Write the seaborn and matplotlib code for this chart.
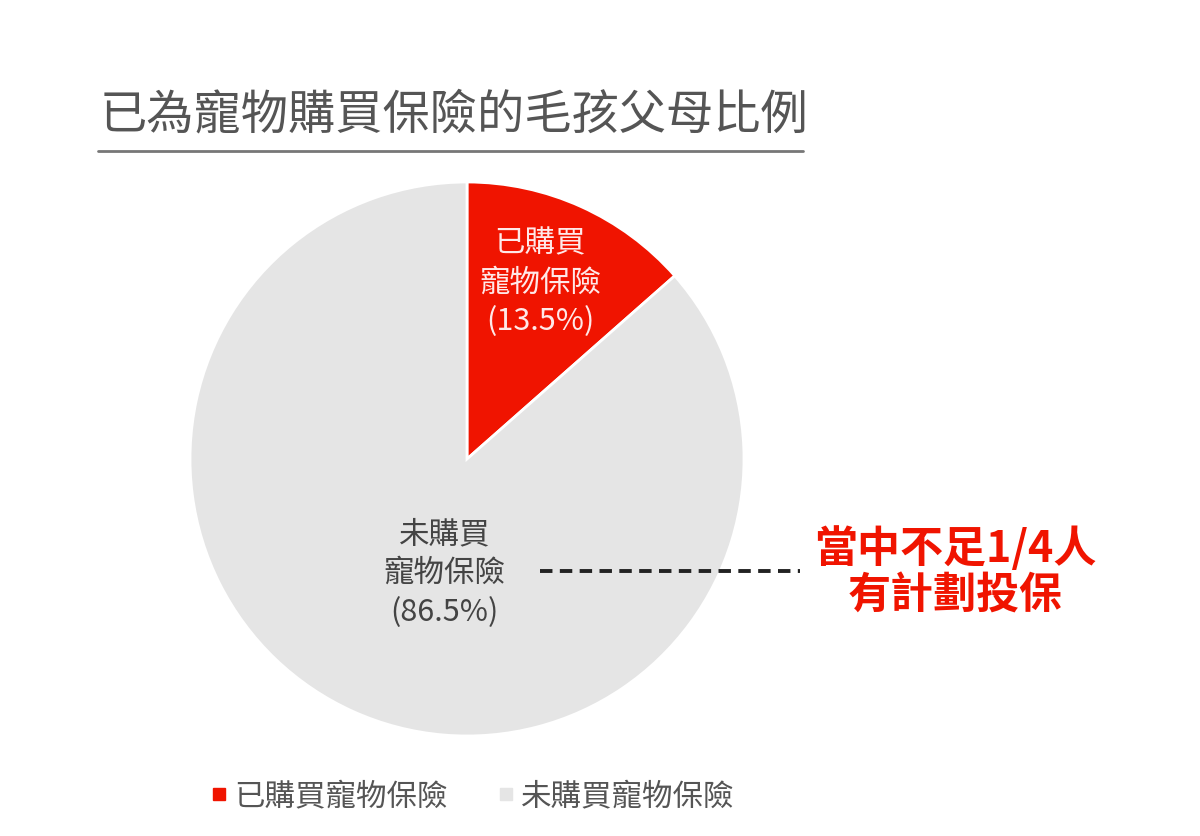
import matplotlib
matplotlib.use("Agg")
import matplotlib.pyplot as plt
from matplotlib.lines import Line2D
import seaborn as sns

sns.set_theme(style="white")
plt.rcParams["font.family"] = ["Noto Sans CJK TC", "DejaVu Sans"]

# Data
title = "已為寵物購買保險的毛孩父母比例"
labels = ["已購買寵物保險", "未購買寵物保險"]
slice_text = ["已購買\n寵物保險", "未購買\n寵物保險"]
values = [13.5, 86.5]
colors = ["#F01400", "#E5E5E5"]
note = "當中不足1/4人\n有計劃投保"

fig = plt.figure(figsize=(12, 8.37), dpi=100)
fig.patch.set_facecolor("white")

# pie axes (center ~ (467, 460) px, radius ~277 px)
ax = fig.add_axes([190 / 1200, 100 / 837, 554 / 1200, 554 / 837])
wedges, _ = ax.pie(values, colors=colors, startangle=90, counterclock=False,
                   radius=1, wedgeprops=dict(edgecolor="white", linewidth=2))
ax.set_xlim(-1, 1)
ax.set_ylim(-1, 1)
ax.set_aspect("equal")
ax.axis("off")

# slice labels
ax.text(0.265, 0.64, f"{slice_text[0]}\n({values[0]}%)", ha="center", va="center",
        color="#FFE8E8", fontsize=22, linespacing=1.32)
ax.text(-0.08, -0.41, f"{slice_text[1]}\n({values[1]}%)", ha="center", va="center",
        color="#444444", fontsize=22, linespacing=1.32)

# title + underline
fig.text(100 / 1200, 1 - 115 / 837, title, ha="left", va="center",
         fontsize=34, fontweight="medium", color="#555555")
fig.add_artist(Line2D([98 / 1200, 803 / 1200], [1 - 152 / 837, 1 - 152 / 837],
                      color="#777777", linewidth=2))

# dashed connector + note
fig.add_artist(Line2D([540 / 1200, 800 / 1200], [1 - 572 / 837, 1 - 572 / 837],
                      color="#222222", linewidth=2.8, linestyle=(0, (3.2, 1.9))))
fig.text(955 / 1200, 1 - 572 / 837, note, ha="center", va="center",
         fontsize=31, fontweight="bold", color="#F01400", linespacing=1.08)

# legend
handles = [Line2D([], [], marker="s", linestyle="none", markersize=8,
                  markerfacecolor=c, markeredgecolor=c) for c in colors]
fig.legend(handles, labels, loc="center", bbox_to_anchor=(468 / 1200, 1 - 797 / 837),
           ncol=2, frameon=False, fontsize=22, handletextpad=-0.1, columnspacing=1.3,
           handlelength=1.2, labelcolor="#555555")

fig.savefig("out.png", dpi=100)
